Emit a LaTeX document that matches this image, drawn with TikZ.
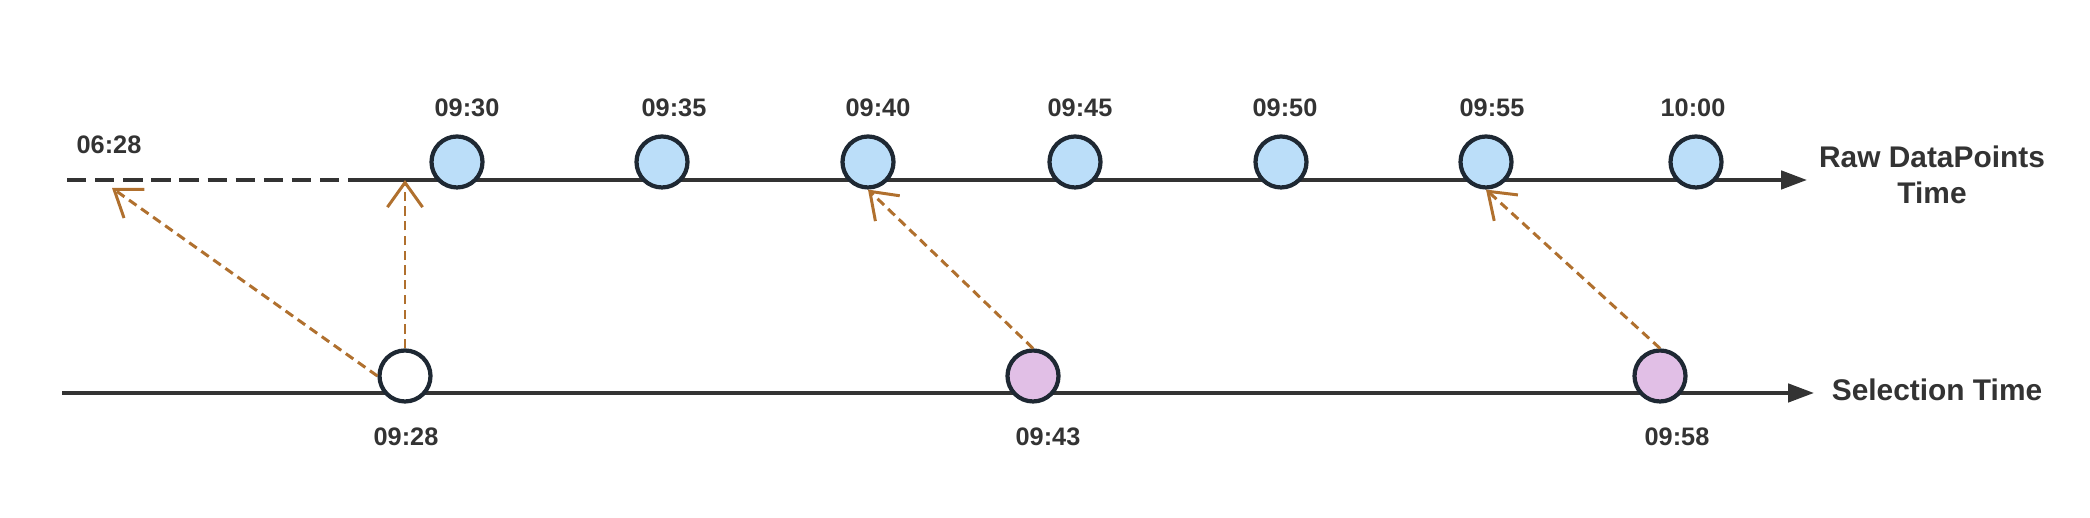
\documentclass[tikz,border=0pt]{standalone}
\usepackage{fontspec}
\setmainfont{Liberation Sans}
\usetikzlibrary{arrows.meta}
\definecolor{axisgray}{HTML}{333333}
\definecolor{ringdark}{HTML}{1E2833}
\definecolor{rawblue}{HTML}{BBDEF9}
\definecolor{selpurple}{HTML}{E1BFE6}
\definecolor{lookbrown}{HTML}{B0702E}
\tikzset{
  rawpt/.style={circle, draw=ringdark, fill=rawblue, line width=1.2pt, minimum size=0.51cm, inner sep=0pt},
  selpt/.style={rawpt, fill=selpurple},
  timelbl/.style={font=\bfseries\fontsize{7.2}{8.6}\selectfont, text=axisgray, inner sep=0pt},
  axislbl/.style={font=\bfseries\fontsize{8.5}{10.2}\selectfont, text=axisgray, inner sep=0pt, align=center},
  axisline/.style={draw=axisgray, line width=1.1pt, -{Triangle[length=7.4pt,width=5.2pt]}},
  lookup/.style={draw=lookbrown, line width=0.85pt, dash pattern=on 2.6pt off 1.6pt, -{Straight Barb[length=7pt,width=10pt]}}
}
\begin{document}
\begin{tikzpicture}
\useasboundingbox (0,0) rectangle (20.9,5.18);

% axes
\coordinate (dstart) at (0.67,3.38);
\coordinate (tstart) at (3.49,3.38);
\coordinate (tend) at (18.07,3.38);
\coordinate (bstart) at (0.62,1.25);
\coordinate (bend) at (18.14,1.25);
\draw[draw=axisgray, line width=1.1pt, dash pattern=on 5.5pt off 2.5pt] (dstart) -- (tstart);
\draw[axisline] (tstart) -- (tend);
\draw[axisline] (bstart) -- (bend);

% raw data points
\node[rawpt] (t30) at (4.57,3.56) {};
\node[rawpt] (t35) at (6.62,3.56) {};
\node[rawpt] (t40) at (8.68,3.56) {};
\node[rawpt] (t45) at (10.75,3.56) {};
\node[rawpt] (t50) at (12.81,3.56) {};
\node[rawpt] (t55) at (14.86,3.56) {};
\node[rawpt] (t00) at (16.96,3.56) {};

\node[timelbl] (l30) at (4.67,4.10) {09:30};
\node[timelbl] (l35) at (6.74,4.10) {09:35};
\node[timelbl] (l40) at (8.78,4.10) {09:40};
\node[timelbl] (l45) at (10.80,4.10) {09:45};
\node[timelbl] (l50) at (12.85,4.10) {09:50};
\node[timelbl] (l55) at (14.92,4.10) {09:55};
\node[timelbl] (l00) at (16.93,4.10) {10:00};
\node[timelbl] (l628) at (1.09,3.73) {06:28};

% selection points
\node[selpt, fill=white] (b28) at (4.05,1.42) {};
\node[selpt] (b43) at (10.33,1.42) {};
\node[selpt] (b58) at (16.60,1.42) {};

\node[timelbl] (s28) at (4.06,0.81) {09:28};
\node[timelbl] (s43) at (10.48,0.81) {09:43};
\node[timelbl] (s58) at (16.77,0.81) {09:58};

\node[axislbl] (rawname) at (19.32,3.43) {Raw DataPoints\\Time};
\node[axislbl] (selname) at (19.37,1.28) {Selection Time};

% lookups
\coordinate (old) at (1.12,3.30);
\coordinate (hit) at (4.05,3.38);
\draw[lookup] (b28.west) -- (old);
\draw[lookup] (b28.north) -- (hit);
\draw[lookup] (b43.north) -- (t40.south);
\draw[lookup] (b58.north) -- (t55.south);

\end{tikzpicture}
\end{document}
